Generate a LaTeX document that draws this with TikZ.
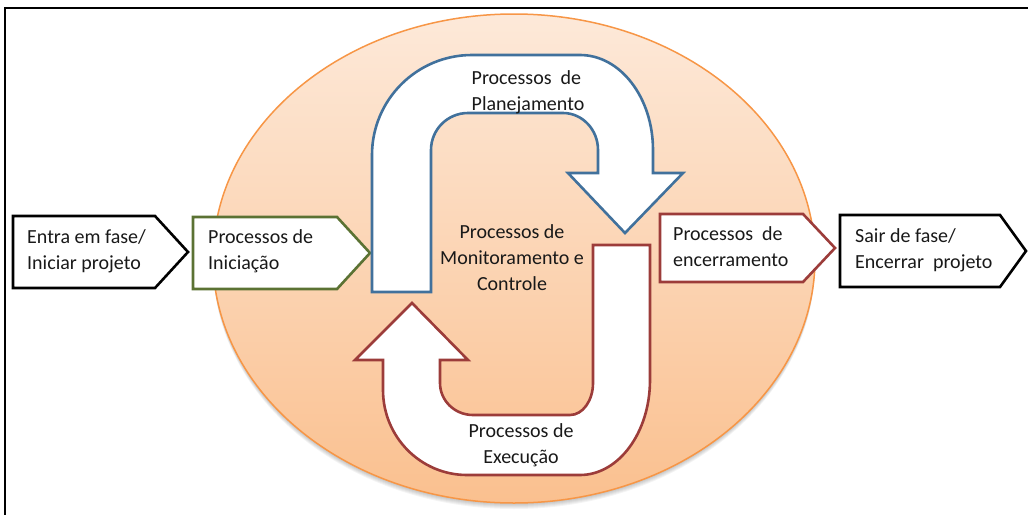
\documentclass[tikz,border=0pt]{standalone}
\usepackage{fontspec}
\setmainfont{Carlito}
\definecolor{planblue}{HTML}{41719C}
\definecolor{execred}{HTML}{9C3C3A}
\definecolor{initgreen}{HTML}{5B7233}
\definecolor{ovaltop}{HTML}{FDE9D9}
\definecolor{ovalbot}{HTML}{FAC08F}
\definecolor{ovalline}{HTML}{F79646}
% multi-line labels whose baseline is the first line
\newcommand\txtL[1]{\begin{tabular}[t]{@{}l@{}}#1\end{tabular}}
\newcommand\txtC[1]{\begin{tabular}[t]{@{}c@{}}#1\end{tabular}}
\begin{document}
\begin{tikzpicture}[x=1pt,y=1pt,
  outline/.style={line width=2.6pt, fill=white},
  lbl/.style={inner sep=0pt, font=\fontsize{20}{26}\selectfont, text=black!90}]
\useasboundingbox (0,0) rectangle (1028,-514);
\clip (0,0) rectangle (1028,-514);

% outer frame
\draw[line width=2pt] (5,-8) rectangle (1060,-560);

% soft shadow under the oval
\foreach \k in {1,...,6}
  \fill[black, opacity=0.045] (514,-258.5-\k) ellipse [x radius=301, y radius=244.5];
% the oval
\shade[top color=ovaltop, bottom color=ovalbot] (514,-258.5) ellipse [x radius=301, y radius=244.5];
\draw[ovalline, line width=1.5pt] (514,-258.5) ellipse [x radius=301, y radius=244.5];

% phase boxes
\draw[outline, draw=black] (13,-216) -- (155,-216) -- (188,-252) -- (155,-288) -- (13,-288) -- cycle;
\draw[outline, draw=initgreen] (193,-217) -- (337,-217) -- (370,-253) -- (337,-289) -- (193,-289) -- cycle;
\draw[outline, draw=execred] (660,-214) -- (803,-214) -- (835,-248) -- (803,-282) -- (660,-282) -- cycle;
\draw[outline, draw=black] (840,-215) -- (1000,-215) -- (1026,-251) -- (1000,-287) -- (840,-287) -- cycle;

% planning U-turn arrow
\draw[outline, draw=planblue]
  (372,-292) -- (372,-155) arc[start angle=180, end angle=90, x radius=100, y radius=100]
  -- (580,-55) arc[start angle=90, end angle=0, x radius=73, y radius=95]
  -- (653,-173) -- (683,-173) -- (625,-233) -- (568,-173) -- (598,-173) -- (598,-150)
  arc[start angle=0, end angle=90, x radius=35, y radius=37]
  -- (468,-113) arc[start angle=90, end angle=180, x radius=37, y radius=37]
  -- (431,-292) -- cycle;

% execution U-turn arrow
\draw[outline, draw=execred]
  (650,-245) -- (650,-380) arc[start angle=0, end angle=-90, x radius=70, y radius=95]
  -- (467,-475) arc[start angle=270, end angle=180, x radius=84, y radius=85]
  -- (383,-360) -- (355,-360) -- (412,-303) -- (468,-360) -- (440,-360) -- (440,-383)
  arc[start angle=180, end angle=270, x radius=33, y radius=32]
  -- (570,-415) arc[start angle=270, end angle=360, x radius=23, y radius=32]
  -- (593,-245) -- cycle;

% labels
\node[lbl, anchor=base west] (enter) at (27,-243) {\txtL{Entra em fase/\\Iniciar projeto}};
\node[lbl, anchor=base west] (init) at (208,-243) {\txtL{Processos de\\Iniciação}};
\node[lbl, anchor=base west] (close) at (673,-240) {\txtL{Processos\ \ de\\encerramento}};
\node[lbl, anchor=base west] (leave) at (855,-242) {\txtL{Sair de fase/\\Encerrar\ \ projeto}};
\node[lbl, anchor=base] (plan) at (528,-84) {\txtL{Processos\ \ de\\Planejamento}};
\node[lbl, anchor=base] (monitor) at (512,-238) {\txtC{Processos de\\Monitoramento e\\Controle}};
\node[lbl, anchor=base] (exec) at (521,-437) {\txtC{Processos de\\Execução}};
\end{tikzpicture}
\end{document}
